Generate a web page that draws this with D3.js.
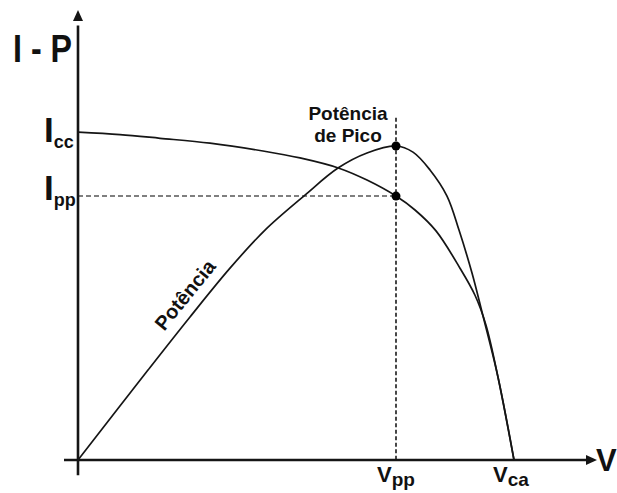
<!DOCTYPE html>
<html>
<head>
<meta charset="utf-8">
<script src="https://cdn.jsdelivr.net/npm/d3@7"></script>
<style>
  body { margin: 0; background: #fff; }
  text { font-family: "Liberation Sans", Arial, sans-serif; font-weight: bold; fill: #111; }
</style>
</head>
<body>
<div id="chart"></div>
<script>
// curve values (V in volts, I in amps, P in watts)
let currentV = [0, 2.1, 4.1, 6.6, 9.25, 11.1, 13.05, 14.45, 15.9, 16.85, 17.9, 19.1, 19.85, 20.4, 21.0, 21.8];
let currentI = [8.0, 7.94, 7.85, 7.73, 7.54, 7.37, 7.12, 6.83, 6.44, 6.1, 5.59, 4.68, 4.02, 3.29, 2.02, 0];

let powerV = [0, 3.5, 5.6, 7.6, 9.35, 11.35, 13.0, 14.45, 15.9, 16.75, 17.6, 18.45, 19.05, 19.7, 20.2, 21.0, 21.8];
let powerP = [0, 29.3, 46.6, 62.5, 74.9, 86.3, 95.1, 100.0, 102.3, 100.3, 94.5, 86.0, 74.9, 60.9, 48.2, 27.0, 0];

// marked points on the axes
let Icc = 8.0, Ipp = 6.44, Vpp = 15.9, Vca = 21.8, Ppico = 102.3;

let width = 617, height = 493;

let svg = d3.select("#chart").append("svg")
    .attr("width", width)
    .attr("height", height);

// scales
let x = d3.scaleLinear().domain([0, 25.95]).range([78, 597]);
let yI = d3.scaleLinear().domain([0, 10.98]).range([460, 10]);
let yP = d3.scaleLinear().domain([0, 146.6]).range([460, 10]);

let ink = "#151515";

// dashed guide lines
svg.append("line")
    .attr("x1", x(0)).attr("x2", x(Vpp))
    .attr("y1", yI(Ipp)).attr("y2", yI(Ipp))
    .attr("stroke", "#555").attr("stroke-width", 1.6)
    .attr("stroke-dasharray", "5,3");

svg.append("line")
    .attr("x1", x(Vpp)).attr("x2", x(Vpp))
    .attr("y1", yI(8.35)).attr("y2", yI(0))
    .attr("stroke", "#333").attr("stroke-width", 1.8)
    .attr("stroke-dasharray", "4,2.5");

// axes
svg.append("line")
    .attr("x1", x(-0.7)).attr("x2", x(25.5))
    .attr("y1", yI(0)).attr("y2", yI(0))
    .attr("stroke", ink).attr("stroke-width", 2.6);

svg.append("line")
    .attr("x1", x(0)).attr("x2", x(0))
    .attr("y1", yI(-0.37)).attr("y2", yI(10.6))
    .attr("stroke", ink).attr("stroke-width", 2.6);

// arrow heads
let xTip = x(25.95), yTip = yI(10.98);
svg.append("path")
    .attr("d", `M${xTip},${yI(0)} L${xTip - 11},${yI(0) - 5} L${xTip - 11},${yI(0) + 5} Z`)
    .attr("fill", ink);
svg.append("path")
    .attr("d", `M${x(0)},${yTip} L${x(0) - 5},${yTip + 11} L${x(0) + 5},${yTip + 11} Z`)
    .attr("fill", ink);

// curves
let currentLine = d3.line()
    .x((d, i) => x(currentV[i]))
    .y(d => yI(d))
    .curve(d3.curveCatmullRom.alpha(0.5));

let powerLine = d3.line()
    .x((d, i) => x(powerV[i]))
    .y(d => yP(d))
    .curve(d3.curveCatmullRom.alpha(0.5));

svg.append("path")
    .attr("d", currentLine(currentI))
    .attr("fill", "none")
    .attr("stroke", ink)
    .attr("stroke-width", 1.7);

svg.append("path")
    .attr("d", powerLine(powerP))
    .attr("fill", "none")
    .attr("stroke", ink)
    .attr("stroke-width", 1.7);

// dots
svg.append("circle").attr("cx", x(Vpp)).attr("cy", yP(Ppico)).attr("r", 4.5).attr("fill", "#000");
svg.append("circle").attr("cx", x(Vpp)).attr("cy", yI(Ipp)).attr("r", 4.5).attr("fill", "#000");

// axis titles
svg.append("text")
    .attr("x", 13).attr("y", 62)
    .attr("font-size", 38)
    .attr("textLength", 59)
    .attr("lengthAdjust", "spacingAndGlyphs")
    .text("I - P");

svg.append("text")
    .attr("x", 596).attr("y", 471)
    .attr("font-size", 31)
    .text("V");

// label with subscript
function subLabel(px, py, main, sub, bigSize, smallSize, drop) {
    let t = svg.append("text").attr("x", px).attr("y", py).attr("font-size", bigSize);
    t.append("tspan").text(main);
    t.append("tspan").attr("font-size", smallSize).attr("dy", drop).text(sub);
}

subLabel(44, yI(Icc) + 10, "I", "cc", 35, 18, 6);
subLabel(44, yI(Ipp) + 4, "I", "pp", 35, 18, 6);
subLabel(x(Vpp) - 19, yI(0) + 22, "V", "pp", 22, 19, 4);
subLabel(x(Vca) - 21, yI(0) + 22, "V", "ca", 22, 19, 4);

// peak label
svg.append("text")
    .attr("x", 348).attr("y", 120)
    .attr("font-size", 19)
    .attr("text-anchor", "middle")
    .text("Potência");
svg.append("text")
    .attr("x", 348).attr("y", 142)
    .attr("font-size", 19)
    .attr("text-anchor", "middle")
    .text("de Pico");

// label along the power curve
let lx = x(6.0), ly = yP(50.2);
svg.append("text")
    .attr("transform", `translate(${lx - 13},${ly - 11}) rotate(-51)`)
    .attr("font-size", 20)
    .attr("text-anchor", "middle")
    .attr("dominant-baseline", "central")
    .text("Potência");
</script>
</body>
</html>
